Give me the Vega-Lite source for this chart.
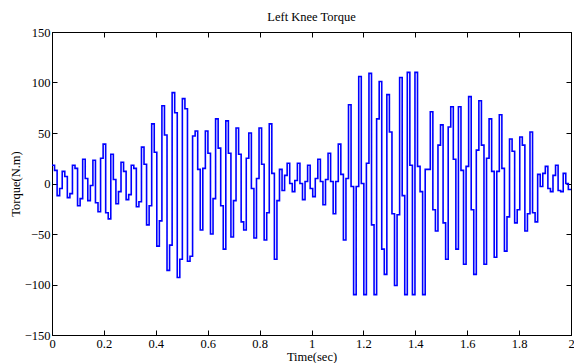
{
  "$schema": "https://vega.github.io/schema/vega-lite/v6.json",
  "width": 519,
  "height": 303,
  "autosize": {"type": "none"},
  "padding": {"left": 52, "top": 32, "right": 3, "bottom": 28},
  "background": "white",
  "title": {"text": "Left Knee Torque", "font": "Liberation Serif", "fontSize": 12.5, "fontWeight": "normal", "color": "black", "offset": 3},
  "config": {
    "view": {"stroke": "black", "strokeWidth": 1},
    "axis": {
      "grid": false,
      "domainColor": "black",
      "domainWidth": 1,
      "tickColor": "black",
      "tickWidth": 1,
      "tickSize": -5,
      "labelFont": "Liberation Serif",
      "labelFontSize": 12.5,
      "labelColor": "black",
      "titleFont": "Liberation Serif",
      "titleFontSize": 12.5,
      "titleFontWeight": "normal",
      "titleColor": "black"
    }
  },
  "data": {"values": [
    {"t":0,"torque":18},{"t":0.00985,"torque":13},{"t":0.0197,"torque":-12},{"t":0.02955,"torque":-5},{"t":0.0394,"torque":12},{"t":0.04925,"torque":7},{"t":0.0591,"torque":-14},{"t":0.06895,"torque":-10},{"t":0.0788,"torque":18},{"t":0.08865,"torque":15},
    {"t":0.0985,"torque":-22},{"t":0.10835,"torque":-15},{"t":0.1182,"torque":24},{"t":0.12805,"torque":5},{"t":0.1379,"torque":-17},{"t":0.14775,"torque":-2},{"t":0.1576,"torque":23},{"t":0.16745,"torque":-19},{"t":0.1773,"torque":-28},{"t":0.18715,"torque":25},
    {"t":0.197,"torque":39},{"t":0.20685,"torque":-29},{"t":0.2167,"torque":-35},{"t":0.22655,"torque":29},{"t":0.2364,"torque":4},{"t":0.24625,"torque":-20},{"t":0.2561,"torque":-8},{"t":0.26595,"torque":21},{"t":0.2758,"torque":12},{"t":0.28565,"torque":-16},
    {"t":0.2955,"torque":-11},{"t":0.30535,"torque":18},{"t":0.3152,"torque":15},{"t":0.32505,"torque":-23},{"t":0.3349,"torque":-18},{"t":0.34475,"torque":36},{"t":0.3546,"torque":19},{"t":0.36445,"torque":-41},{"t":0.3743,"torque":-22},{"t":0.38415,"torque":59},
    {"t":0.394,"torque":31},{"t":0.40385,"torque":-62},{"t":0.4137,"torque":-37},{"t":0.42355,"torque":77},{"t":0.4334,"torque":48},{"t":0.44325,"torque":-86},{"t":0.4531,"torque":-61},{"t":0.46295,"torque":90},{"t":0.4728,"torque":70},{"t":0.48265,"torque":-93},
    {"t":0.4925,"torque":-75},{"t":0.50235,"torque":84},{"t":0.5122,"torque":74},{"t":0.52205,"torque":-77},{"t":0.5319,"torque":-72},{"t":0.54175,"torque":47},{"t":0.5516,"torque":52},{"t":0.56145,"torque":14},{"t":0.5713,"torque":-46},{"t":0.58115,"torque":15},
    {"t":0.591,"torque":52},{"t":0.60085,"torque":30},{"t":0.6107,"torque":-50},{"t":0.62055,"torque":-15},{"t":0.6304,"torque":64},{"t":0.64025,"torque":35},{"t":0.6501,"torque":-22},{"t":0.65995,"torque":-65},{"t":0.6698,"torque":62},{"t":0.67965,"torque":30},
    {"t":0.6895,"torque":-53},{"t":0.69935,"torque":-17},{"t":0.7092,"torque":55},{"t":0.71905,"torque":29},{"t":0.7289,"torque":-38},{"t":0.73875,"torque":-46},{"t":0.7486,"torque":25},{"t":0.75845,"torque":50},{"t":0.7683,"torque":-5},{"t":0.77815,"torque":-54},
    {"t":0.788,"torque":5},{"t":0.79785,"torque":55},{"t":0.8077,"torque":19},{"t":0.81755,"torque":-56},{"t":0.8274,"torque":-29},{"t":0.83725,"torque":59},{"t":0.8471,"torque":10},{"t":0.85695,"torque":-75},{"t":0.8668,"torque":-17},{"t":0.87665,"torque":14},
    {"t":0.8865,"torque":-7},{"t":0.89635,"torque":8},{"t":0.9062,"torque":20},{"t":0.91605,"torque":0},{"t":0.9259,"torque":-8},{"t":0.93575,"torque":3},{"t":0.9456,"torque":20},{"t":0.95545,"torque":0},{"t":0.9653,"torque":-16},{"t":0.97515,"torque":2},
    {"t":0.985,"torque":18},{"t":0.99485,"torque":-5},{"t":1.0047,"torque":-13},{"t":1.01455,"torque":5},{"t":1.0244,"torque":24},{"t":1.03425,"torque":2},{"t":1.0441,"torque":-21},{"t":1.05395,"torque":4},{"t":1.0638,"torque":30},{"t":1.07365,"torque":2},
    {"t":1.0835,"torque":-30},{"t":1.09335,"torque":2},{"t":1.1032,"torque":39},{"t":1.11305,"torque":9},{"t":1.1229,"torque":-56},{"t":1.13275,"torque":5},{"t":1.1426,"torque":78},{"t":1.15245,"torque":-3},{"t":1.1623,"torque":-110},{"t":1.17215,"torque":-3},
    {"t":1.182,"torque":106},{"t":1.19185,"torque":0},{"t":1.2017,"torque":-110},{"t":1.21155,"torque":20},{"t":1.2214,"torque":109},{"t":1.23125,"torque":-41},{"t":1.2411,"torque":-110},{"t":1.25095,"torque":64},{"t":1.2608,"torque":101},{"t":1.27065,"torque":-65},
    {"t":1.2805,"torque":-90},{"t":1.29035,"torque":88},{"t":1.3002,"torque":51},{"t":1.31005,"torque":-30},{"t":1.3199,"torque":-101},{"t":1.32975,"torque":-31},{"t":1.3396,"torque":105},{"t":1.34945,"torque":-12},{"t":1.3593,"torque":-110},{"t":1.36915,"torque":110},
    {"t":1.379,"torque":18},{"t":1.38885,"torque":-110},{"t":1.3987,"torque":110},{"t":1.40855,"torque":17},{"t":1.4184,"torque":-8},{"t":1.42825,"torque":-110},{"t":1.4381,"torque":14},{"t":1.44795,"torque":14},{"t":1.4578,"torque":71},{"t":1.46765,"torque":-26},
    {"t":1.4775,"torque":-47},{"t":1.48735,"torque":38},{"t":1.4972,"torque":58},{"t":1.50705,"torque":-39},{"t":1.5169,"torque":-75},{"t":1.52675,"torque":56},{"t":1.5366,"torque":76},{"t":1.54645,"torque":24},{"t":1.5563,"torque":-65},{"t":1.56615,"torque":76},
    {"t":1.576,"torque":13},{"t":1.58585,"torque":-80},{"t":1.5957,"torque":17},{"t":1.60555,"torque":86},{"t":1.6154,"torque":-26},{"t":1.62525,"torque":-90},{"t":1.6351,"torque":33},{"t":1.64495,"torque":82},{"t":1.6548,"torque":38},{"t":1.66465,"torque":-80},
    {"t":1.6745,"torque":25},{"t":1.68435,"torque":64},{"t":1.6942,"torque":12},{"t":1.70405,"torque":-73},{"t":1.7139,"torque":12},{"t":1.72375,"torque":68},{"t":1.7336,"torque":15},{"t":1.74345,"torque":-67},{"t":1.7533,"torque":-33},{"t":1.76315,"torque":44},
    {"t":1.773,"torque":32},{"t":1.78285,"torque":-39},{"t":1.7927,"torque":-26},{"t":1.80255,"torque":46},{"t":1.8124,"torque":38},{"t":1.82225,"torque":-47},{"t":1.8321,"torque":-30},{"t":1.84195,"torque":51},{"t":1.8518,"torque":-29},{"t":1.86165,"torque":-38},
    {"t":1.8715,"torque":9},{"t":1.88135,"torque":-3},{"t":1.8912,"torque":10},{"t":1.90105,"torque":17},{"t":1.9109,"torque":-5},{"t":1.92075,"torque":-8},{"t":1.9306,"torque":8},{"t":1.94045,"torque":18},{"t":1.9503,"torque":-7},{"t":1.96015,"torque":-8},
    {"t":1.97,"torque":10},{"t":1.97985,"torque":0},{"t":1.9897,"torque":-6},{"t":2.0,"torque":-6}
  ]},
  "layer": [
    {
      "mark": {"type": "line", "interpolate": "step-after", "color": "#0000ff", "strokeWidth": 1.6},
      "encoding": {
        "x": {"field": "t", "type": "quantitative", "scale": {"domain": [0, 2], "nice": false, "zero": false},
              "axis": {"orient": "bottom", "title": "Time(sec)", "values": [0, 0.2, 0.4, 0.6, 0.8, 1, 1.2, 1.4, 1.6, 1.8, 2], "format": "~g", "labelPadding": 7, "titlePadding": 1, "labelFlush": false}},
        "y": {"field": "torque", "type": "quantitative", "scale": {"domain": [-150, 150], "nice": false},
              "axis": {"orient": "left", "title": "Torque(N.m)", "values": [-150, -100, -50, 0, 50, 100, 150], "format": "d", "labelPadding": 7, "titlePadding": 2, "labelFlush": false}}
      }
    },
    {
      "mark": {"type": "line", "opacity": 0},
      "encoding": {
        "x": {"field": "t", "type": "quantitative",
              "axis": {"orient": "top", "title": null, "labels": false, "values": [0, 0.2, 0.4, 0.6, 0.8, 1, 1.2, 1.4, 1.6, 1.8, 2]}},
        "y": {"field": "torque", "type": "quantitative",
              "axis": {"orient": "right", "title": null, "labels": false, "values": [-150, -100, -50, 0, 50, 100, 150]}}
      }
    }
  ],
  "resolve": {"axis": {"x": "independent", "y": "independent"}}
}
